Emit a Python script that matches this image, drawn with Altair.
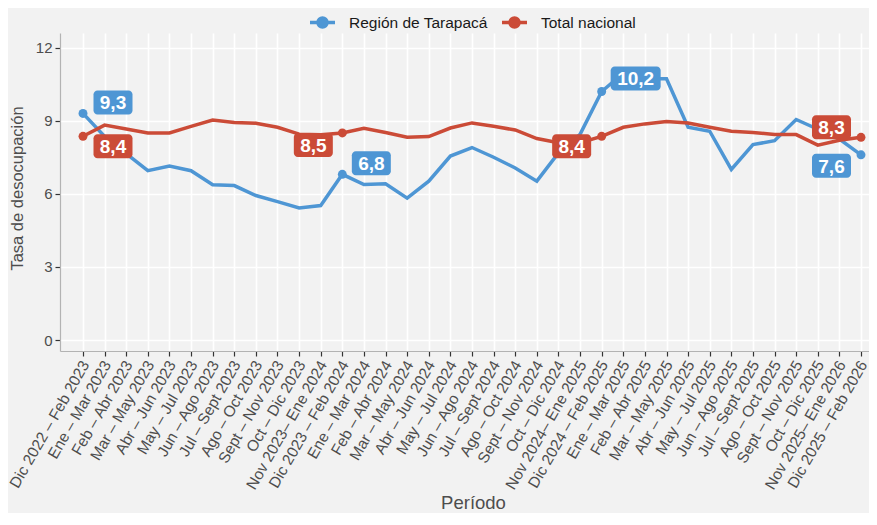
import json
import altair as alt
import pandas as pd

periodos = [
    "Dic 2022 – Feb 2023", "Ene – Mar 2023", "Feb – Abr 2023", "Mar – May 2023",
    "Abr – Jun 2023", "May – Jul 2023", "Jun – Ago 2023", "Jul – Sept 2023",
    "Ago – Oct 2023", "Sept – Nov 2023", "Oct – Dic 2023", "Nov 2023– Ene 2024",
    "Dic 2023 – Feb 2024", "Ene – Mar 2024", "Feb – Abr 2024", "Mar – May 2024",
    "Abr – Jun 2024", "May – Jul 2024", "Jun – Ago 2024", "Jul – Sept 2024",
    "Ago – Oct 2024", "Sept – Nov 2024", "Oct – Dic 2024", "Nov 2024– Ene 2025",
    "Dic 2024 – Feb 2025", "Ene – Mar 2025", "Feb – Abr 2025", "Mar – May 2025",
    "Abr – Jun 2025", "May – Jul 2025", "Jun – Ago 2025", "Jul – Sept 2025",
    "Ago – Oct 2025", "Sept – Nov 2025", "Oct – Dic 2025", "Nov 2025– Ene 2026",
    "Dic 2025 – Feb 2026",
]

tarapaca = [
    9.3, 8.35, 7.65, 6.95, 7.14, 6.95, 6.37, 6.34, 5.93, 5.68, 5.42, 5.52,
    6.8, 6.38, 6.41, 5.82, 6.52, 7.55, 7.9, 7.5, 7.06, 6.52, 7.68, 8.44,
    10.2, 10.95, 10.72, 10.72, 8.73, 8.57, 7.0, 8.02, 8.18, 9.05, 8.65, 8.25,
    7.6,
]

nacional = [
    8.36, 8.82, 8.66, 8.5, 8.5, 8.77, 9.03, 8.93, 8.9, 8.73, 8.45, 8.42,
    8.5, 8.69, 8.52, 8.32, 8.35, 8.7, 8.91, 8.77, 8.62, 8.27, 8.1, 8.1,
    8.36, 8.73, 8.87, 8.97, 8.91, 8.73, 8.57, 8.52, 8.43, 8.43, 8.0, 8.2,
    8.32,
]

series = ["Región de Tarapacá", "Total nacional"]
colores = ["#4E96D4", "#CB4B37"]
destacados = [0, 12, 24, 36]
y_ticks = [0, 3, 6, 9, 12]

rows = []
for i, (p, a, b) in enumerate(zip(periodos, tarapaca, nacional)):
    rows.append({"i": i, "periodo": p, "serie": series[0], "valor": a})
    rows.append({"i": i, "periodo": p, "serie": series[1], "valor": b})
df = pd.DataFrame(rows)
df["etiqueta"] = df["valor"].map(lambda v: f"{v:.1f}".replace(".", ","))

FONT = "Liberation Sans"
label_expr = "[" + ",".join(json.dumps(p) for p in periodos) + "][datum.value]"

PLOT_W = 809
PLOT_H = 318

x_enc = alt.X(
    "i:Q",
    scale=alt.Scale(domain=[-1.064, 36.37], nice=False, zero=False),
    axis=alt.Axis(
        values=list(range(len(periodos))),
        labelExpr=label_expr,
        title="Período",
        labelAngle=300,
        labelAlign="right",
        labelBaseline="top",
        labelFlush=False,
        labelOverlap=False,
        labelBound=False,
        labelPadding=2,
        labelOffset=-4,
        labelFontSize=15.5,
        titleFontSize=18.5,
        titleBaseline="top",
        titleX=413,
        titleY=142,
    ),
)
y_enc = alt.Y(
    "valor:Q",
    scale=alt.Scale(domain=[-0.45, 12.6], nice=False, zero=False),
    axis=alt.Axis(
        values=y_ticks,
        title="Tasa de desocupación",
        labelPadding=3,
        labelFontSize=15,
        titleFontSize=16.5,
        titleBaseline="bottom",
        titleX=-35,
        titleY=155,
    ),
)
color_scale = alt.Scale(domain=series, range=colores)

legend_symbol = (
    "M-1,0L1,0M0.36,0A0.36,0.36 0 1,1 -0.36,0A0.36,0.36 0 1,1 0.36,0Z"
)

base = alt.Chart(df)

lines = base.mark_line(strokeWidth=3.5).encode(
    x=x_enc,
    y=y_enc,
    color=alt.Color(
        "serie:N",
        scale=color_scale,
        sort=series,
        legend=alt.Legend(
            title=None,
            orient="none",
            direction="horizontal",
            legendX=248,
            legendY=-25,
            padding=0,
            symbolType=legend_symbol,
            symbolSize=625,
            symbolStrokeWidth=3.5,
            labelFont=FONT,
            labelFontSize=15.5,
            labelColor="#1A1A1A",
            columnPadding=7,
            labelOffset=12,
        ),
    ),
)

points = base.transform_filter(
    alt.FieldOneOfPredicate(field="i", oneOf=destacados)
).mark_point(filled=True, size=80, opacity=1).encode(
    x=x_enc, y=y_enc, color=alt.Color("serie:N", scale=color_scale, legend=None)
)

# (index, series, x offset, y offset) for each boxed label
etiquetas = [
    (0, series[0], 30, -11),
    (0, series[1], 30, 10),
    (12, series[1], -29, 12),
    (12, series[0], 29, -11),
    (24, series[1], -30, 10),
    (24, series[0], 34, -13),
    (36, series[1], -29.5, -10),
    (36, series[0], -29.5, 11),
]

label_layers = []
for idx, serie, dx, dy in etiquetas:
    sub = base.transform_filter(
        (alt.datum.i == idx) & (alt.datum.serie == serie)
    )
    txt = df[(df["i"] == idx) & (df["serie"] == serie)]["etiqueta"].iloc[0]
    w = 50 if len(txt) > 3 else 39
    box = sub.mark_rect(
        width=w, height=24, cornerRadius=4, xOffset=dx, yOffset=dy
    ).encode(
        x=x_enc, y=y_enc, fill=alt.Fill("serie:N", scale=color_scale, legend=None)
    )
    text = sub.mark_text(
        dx=dx, dy=dy + 1, font=FONT, fontSize=19, fontWeight="bold",
        color="white", baseline="middle", align="center",
    ).encode(x=x_enc, y=y_enc, text="etiqueta:N")
    label_layers += [box, text]

chart = alt.layer(lines, points, *label_layers).properties(
    width=PLOT_W,
    height=PLOT_H,
    autosize=alt.AutoSizeParams(type="none"),
    padding={"left": 52, "top": 25, "right": 0, "bottom": 162},
    background="#F2F2F2",
).configure_view(
    fill="#F2F2F2", stroke=None
).configure_axis(
    grid=True,
    gridColor="#FFFFFF",
    gridWidth=1.6,
    domainColor="#B3B3B3",
    domainWidth=1.2,
    tickColor="#333333",
    tickSize=5,
    tickWidth=1.2,
    labelFont=FONT,
    labelColor="#4D4D4D",
    titleFont=FONT,
    titleFontWeight="normal",
    titleColor="#4D4D4D",
)

chart.save("out.html", embed_options={"renderer": "svg", "actions": False})
